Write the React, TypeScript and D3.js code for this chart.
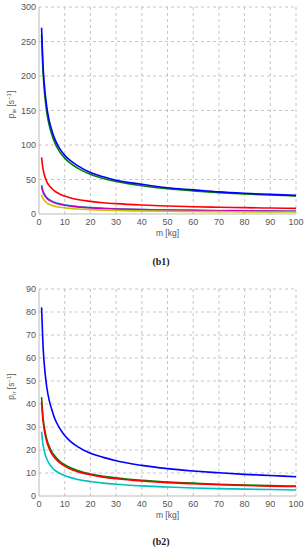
import React from 'react';
import * as d3 from 'd3';

// mass samples [kg]
const masses = [1, 1.5, 2, 3, 4, 5, 6, 8, 10, 12, 15, 20, 25, 30, 40, 50, 60, 70, 80, 90, 100];

// (b1) p_ie
const ieBlue = [270, 220, 191, 156, 135, 121, 110, 95, 85, 78, 70, 60, 54, 49, 43, 38, 35, 32, 30, 28.5, 27];
const ieGreen = [260, 211, 182, 148, 128, 115, 104.5, 90.5, 81, 74, 66.5, 57.5, 51.5, 47, 41, 36.5, 33.5, 31, 29, 27.5, 26];
const ieRed = [82, 67, 58, 47, 41, 37, 33.5, 29, 26, 23.7, 21, 18.3, 16.4, 15, 13, 11.6, 10.6, 9.8, 9.2, 8.6, 8.2];
const ieCyan = [42, 34, 30, 24, 21, 19, 17, 15, 13.3, 12.1, 10.8, 9.4, 8.4, 7.7, 6.6, 5.9, 5.4, 5, 4.7, 4.3, 4];
const ieMagenta = [40, 32.6, 28.3, 23, 20, 17.9, 16.3, 14.1, 12.6, 11.5, 10.3, 8.9, 8, 7.3, 6.3, 5.7, 5.2, 4.8, 4.5, 4.2, 4];
const ieYellow = [28, 22.8, 19.8, 16.2, 14, 12.5, 11.4, 9.9, 8.9, 8.1, 7.2, 6.3, 5.6, 5.1, 4.4, 4, 3.6, 3.4, 3.1, 2.9, 2.8];

// (b2) p_ir
const irBlue = [82, 67, 58, 47.5, 41.5, 37.5, 34, 29.5, 26.3, 24, 21.5, 18.6, 16.8, 15.3, 13.3, 11.9, 10.9, 10.1, 9.4, 8.9, 8.4];
const irGreen = [43, 35, 30.4, 24.8, 21.5, 19.2, 17.6, 15.2, 13.6, 12.4, 11.1, 9.6, 8.6, 7.9, 6.8, 6.1, 5.6, 5.1, 4.8, 4.5, 4.3];
const irRed = [41, 33.5, 29, 23.7, 20.5, 18.3, 16.7, 14.5, 13, 11.8, 10.6, 9.2, 8.2, 7.5, 6.5, 5.8, 5.3, 4.9, 4.6, 4.3, 4.1];
const irCyan = [28, 22.8, 19.8, 16.2, 14, 12.5, 11.4, 9.9, 8.9, 8.1, 7.2, 6.3, 5.6, 5.1, 4.4, 3.9, 3.5, 3.2, 3, 2.8, 2.6];

const xTicks = [0, 10, 20, 30, 40, 50, 60, 70, 80, 90, 100];
const ieTicks = [0, 50, 100, 150, 200, 250, 300];
const irTicks = [0, 10, 20, 30, 40, 50, 60, 70, 80, 90];

const ieSeries = [
  { color: '#00b8c8', values: ieCyan },
  { color: '#c000c0', values: ieMagenta },
  { color: '#c8c400', values: ieYellow },
  { color: '#ff0000', values: ieRed },
  { color: '#008000', values: ieGreen },
  { color: '#0000ff', values: ieBlue },
];
const irSeries = [
  { color: '#00c0c0', values: irCyan },
  { color: '#008000', values: irGreen },
  { color: '#ff0000', values: irRed },
  { color: '#0000ff', values: irBlue },
];

const font = 'Liberation Sans, Arial, sans-serif';

function Panel({ top, bottom, yMax, yTicks, series, sub, caption, captionY }: any) {
  const left = 39;
  const right = 296;
  const x = d3.scaleLinear().domain([0, 100]).range([left, right]);
  const y = d3.scaleLinear().domain([0, yMax]).range([bottom, top]);
  const line = d3.line<number>()
    .x((_, i) => x(masses[i]))
    .y(d => y(d))
    .curve(d3.curveMonotoneX);

  return (
    <g>
      {/* grid */}
      {xTicks.slice(1).map(t => (
        <line key={'gx' + t} x1={x(t)} x2={x(t)} y1={top} y2={bottom}
          stroke="#b8b8b8" strokeWidth={0.8} strokeDasharray="3,3" />
      ))}
      {yTicks.slice(1).map((t: number) => (
        <line key={'gy' + t} x1={left} x2={right} y1={y(t)} y2={y(t)}
          stroke="#b8b8b8" strokeWidth={0.8} strokeDasharray="3,3" />
      ))}
      <line x1={left} x2={left} y1={top} y2={bottom} stroke="#aaa" strokeWidth={0.8} />
      <line x1={left} x2={right} y1={bottom} y2={bottom} stroke="#aaa" strokeWidth={0.8} />

      {series.map((s: any, i: number) => (
        <path key={i} d={line(s.values) || ''} fill="none" stroke={s.color} strokeWidth={1.6} />
      ))}

      {/* tick labels */}
      {xTicks.map(t => (
        <text key={'tx' + t} x={x(t)} y={bottom + 11} textAnchor="middle"
          fontFamily={font} fontSize={9} fill="#555">{t}</text>
      ))}
      {yTicks.map((t: number) => (
        <text key={'ty' + t} x={left - 3} y={y(t) + 3} textAnchor="end"
          fontFamily={font} fontSize={9} fill="#555">{t}</text>
      ))}
      <text x={(left + right) / 2} y={bottom + 22} textAnchor="middle"
        fontFamily={font} fontSize={8.5} fill="#555">m [kg]</text>
      <text transform={`translate(14,${(top + bottom) / 2 - 6}) rotate(-90)`} textAnchor="middle"
        fontFamily={font} fontSize={8.5} fill="#555">
        p<tspan fontSize={6} dy={2}>{sub}</tspan>
        <tspan dy={-2}> [s</tspan>
        <tspan fontSize={6} dy={-3}>−1</tspan>
        <tspan dy={3}>]</tspan>
      </text>
      <text x={161} y={captionY} textAnchor="middle" fontFamily="Liberation Serif, serif"
        fontSize={10} fontWeight="bold" fill="#222">{caption}</text>
    </g>
  );
}

export default function App() {
  return (
    <svg width={308} height={550} style={{ position: 'absolute', left: 0, top: 0, background: '#fff' }}>
      <Panel top={7} bottom={214} yMax={300} yTicks={ieTicks} series={ieSeries}
        sub="ie" caption="(b1)" captionY={265} />
      <Panel top={289} bottom={496} yMax={90} yTicks={irTicks} series={irSeries}
        sub="ir" caption="(b2)" captionY={545} />
    </svg>
  );
}
